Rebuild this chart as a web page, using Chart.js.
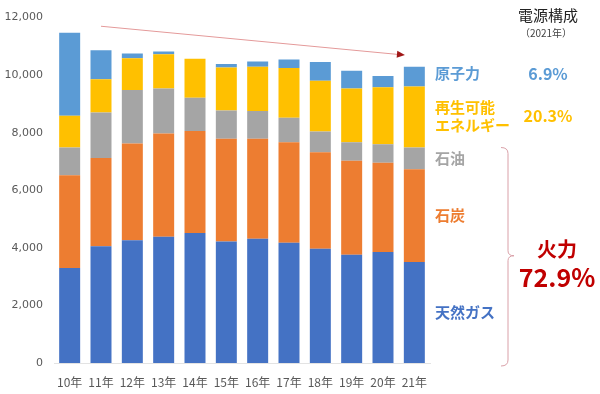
<!DOCTYPE html>
<html>
<head>
<meta charset="utf-8">
<script src="https://cdn.jsdelivr.net/npm/chart.js@4"></script>
<style>
  html, body { margin: 0; padding: 0; background: #fff; }
  #wrap { width: 600px; height: 394px; }
</style>
</head>
<body>
<div id="wrap"><canvas id="chart" width="600" height="394"></canvas></div>
<script>
// years and generation by source
const years = ["10年", "11年", "12年", "13年", "14年", "15年", "16年", "17年", "18年", "19年", "20年", "21年"];
const gas = [3300, 4060, 4267, 4382, 4520, 4220, 4313, 4175, 3968, 3761, 3853, 3510];
const coal = [3220, 3058, 3358, 3588, 3542, 3567, 3474, 3495, 3357, 3266, 3105, 3218];
const oil = [970, 1587, 1863, 1563, 1150, 987, 965, 852, 714, 643, 643, 758];
const renew = [1100, 1151, 1104, 1197, 1356, 1496, 1540, 1725, 1770, 1863, 1979, 2116];
const nuclear = [2880, 1012, 162, 92, 0, 115, 185, 299, 645, 621, 391, 690];

const seriesNames = ["天然ガス", "石炭", "石油", "再生可能エネルギー", "原子力"];
const seriesColors = ["#4472C4", "#ED7D31", "#A5A5A5", "#FFC000", "#5B9BD5"];
const yTicks = [0, 2000, 4000, 6000, 8000, 10000, 12000];

// 2021 shares shown on the right
const shareNuclear = "6.9%";
const shareRenew = "20.3%";
const shareThermal = "72.9%";

// trend arrow: [category index, value]
const arrowFrom = [1, 11700];
const arrowTo = [10.7, 10700];

const JP = "'Noto Sans CJK JP', 'Noto Sans', sans-serif";

const sideLabels = {
  id: "sideLabels",
  afterDraw(chart) {
    const ctx = chart.ctx;
    const x = chart.scales.x;
    const y = chart.scales.y;
    const last = years.length - 1;

    // trend arrow
    const x1 = x.getPixelForValue(arrowFrom[0]);
    const y1 = y.getPixelForValue(arrowFrom[1]);
    const x2 = x.getPixelForValue(arrowTo[0]);
    const y2 = y.getPixelForValue(arrowTo[1]);
    ctx.save();
    ctx.strokeStyle = "#E49A9A";
    ctx.lineWidth = 1;
    ctx.beginPath();
    ctx.moveTo(x1, y1);
    ctx.lineTo(x2 - 6, y2 - 0.5);
    ctx.stroke();
    const ang = Math.atan2(y2 - y1, x2 - x1);
    ctx.fillStyle = "#A01818";
    ctx.beginPath();
    ctx.moveTo(x2, y2);
    ctx.lineTo(x2 - 8 * Math.cos(ang) + 3.5 * Math.sin(ang), y2 - 8 * Math.sin(ang) - 3.5 * Math.cos(ang));
    ctx.lineTo(x2 - 8 * Math.cos(ang) - 3.5 * Math.sin(ang), y2 - 8 * Math.sin(ang) + 3.5 * Math.cos(ang));
    ctx.closePath();
    ctx.fill();

    // segment midpoints of the last bar
    const stacks = [gas[last], coal[last], oil[last], renew[last], nuclear[last]];
    const mids = [];
    let base = 0;
    for (const v of stacks) {
      mids.push(y.getPixelForValue(base + v / 2));
      base += v;
    }

    const lx = 435;
    const cx = 548;
    ctx.textBaseline = "middle";

    // title
    ctx.textAlign = "center";
    ctx.fillStyle = "#222";
    ctx.font = "15px " + JP;
    ctx.fillText("電源構成", cx, 15);
    ctx.fillStyle = "#444";
    ctx.font = "10px " + JP;
    ctx.fillText("（2021年）", cx - 2, 33);

    ctx.textAlign = "left";
    ctx.font = "bold 15px " + JP;
    ctx.fillStyle = seriesColors[4];
    ctx.fillText("原子力", lx, mids[4] - 3);
    ctx.fillStyle = seriesColors[3];
    ctx.fillText("再生可能", lx, mids[3] - 10);
    ctx.fillText("エネルギー", lx, mids[3] + 8);
    ctx.fillStyle = seriesColors[2];
    ctx.fillText("石油", lx, mids[2]);
    ctx.fillStyle = seriesColors[1];
    ctx.fillText("石炭", lx, mids[1]);
    ctx.fillStyle = seriesColors[0];
    ctx.fillText("天然ガス", lx, mids[0]);

    ctx.textAlign = "center";
    ctx.font = "bold 16px " + JP;
    ctx.fillStyle = seriesColors[4];
    ctx.fillText(shareNuclear, cx, mids[4] - 3);
    ctx.fillStyle = seriesColors[3];
    ctx.fillText(shareRenew, cx, mids[3] - 1);

    // bracket around thermal sources
    const top = y.getPixelForValue(gas[last] + coal[last] + oil[last]);
    const bot = y.getPixelForValue(0) + 3;
    const mid = (top + bot) / 2 - 1;
    const bx = 508;
    ctx.strokeStyle = "#D9A0A8";
    ctx.lineWidth = 1;
    ctx.beginPath();
    ctx.moveTo(bx - 7, top);
    ctx.quadraticCurveTo(bx, top, bx, top + 6);
    ctx.lineTo(bx, mid - 5);
    ctx.quadraticCurveTo(bx, mid, bx + 6, mid);
    ctx.quadraticCurveTo(bx, mid, bx, mid + 5);
    ctx.lineTo(bx, bot - 6);
    ctx.quadraticCurveTo(bx, bot, bx - 7, bot);
    ctx.stroke();

    ctx.fillStyle = "#C00000";
    ctx.font = "bold 20px " + JP;
    ctx.fillText("火力", 557, mid - 6);
    ctx.font = "bold 25px " + JP;
    ctx.fillText(shareThermal, 557, mid + 22);
    ctx.restore();
  }
};

const seriesData = [gas, coal, oil, renew, nuclear];

new Chart(document.getElementById("chart"), {
  type: "bar",
  data: {
    labels: years,
    datasets: seriesData.map((d, i) => ({
      label: seriesNames[i],
      data: d,
      backgroundColor: seriesColors[i],
      borderWidth: 0,
      barPercentage: 0.67,
      categoryPercentage: 1
    }))
  },
  options: {
    responsive: false,
    animation: false,
    layout: { padding: { top: 7, right: 170, left: 0, bottom: 0 } },
    plugins: { legend: { display: false }, tooltip: { enabled: false } },
    scales: {
      x: {
        stacked: true,
        grid: { display: false },
        border: { display: true, color: "#E3E3E3" },
        afterFit(scale) { scale.height = 31; },
        ticks: { color: "#595959", font: { family: JP, size: 12 }, padding: 4 }
      },
      y: {
        stacked: true,
        min: 0,
        max: 12000,
        afterBuildTicks(scale) {
          scale.ticks = yTicks.map(v => ({ value: v }));
        },
        afterFit(scale) { scale.width = 54; },
        grid: { display: false, drawTicks: false },
        border: { display: false },
        ticks: {
          color: "#595959",
          padding: 11,
          font: { family: "'DejaVu Sans', sans-serif", size: 11 },
          callback: v => v.toLocaleString("en-US")
        }
      }
    }
  },
  plugins: [sideLabels]
});
</script>
</body>
</html>
